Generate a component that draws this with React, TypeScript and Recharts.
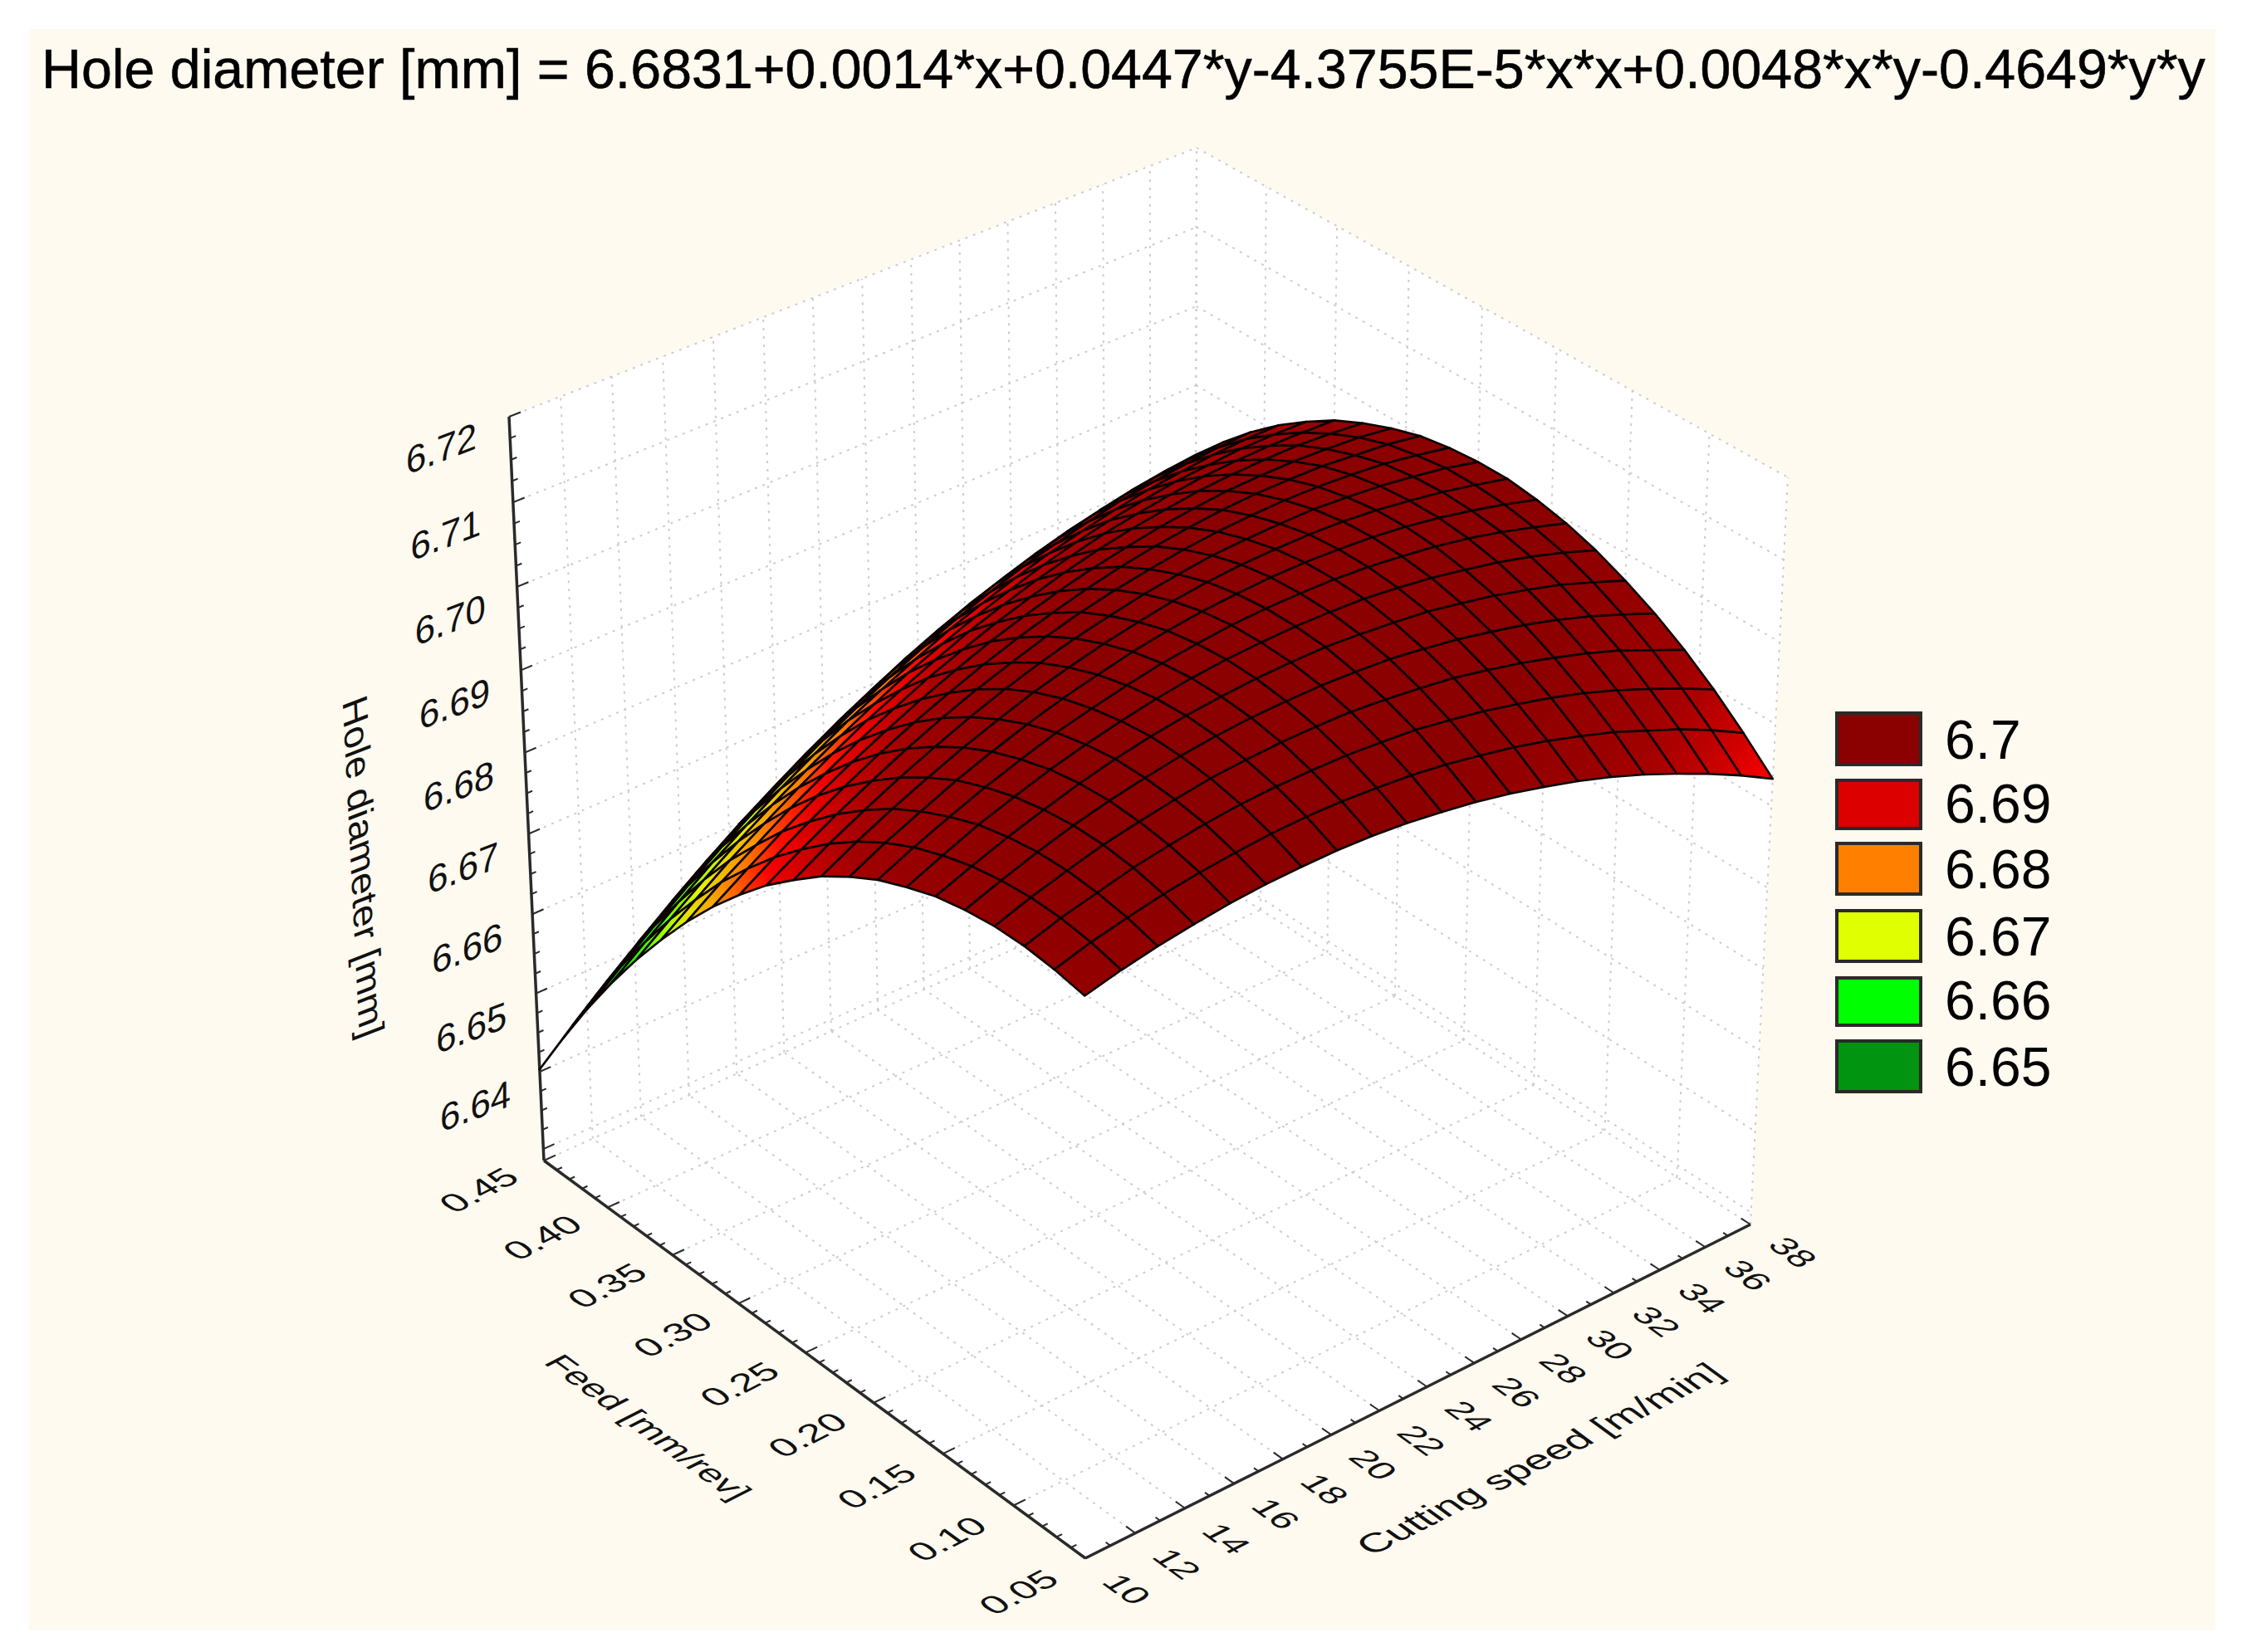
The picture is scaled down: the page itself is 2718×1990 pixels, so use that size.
import React from "react";
import { ScatterChart, Scatter, XAxis, YAxis } from "recharts";

const W = 2718;
const H = 1990;

const titleText = "Hole diameter [mm] = 6.6831+0.0014*x+0.0447*y-4.3755E-5*x*x+0.0048*x*y-0.4649*y*y";
const speedAxisTitle = "Cutting speed [m/min]";
const feedAxisTitle = "Feed [mm/rev]";
const zAxisTitle = "Hole diameter [mm]";

const speedTicks = [10, 12, 14, 16, 18, 20, 22, 24, 26, 28, 30, 32, 34, 36, 38];
const feedTicks = ["0.05", "0.10", "0.15", "0.20", "0.25", "0.30", "0.35", "0.40", "0.45"];
const zTicks = ["6.64", "6.65", "6.66", "6.67", "6.68", "6.69", "6.70", "6.71", "6.72"];

const legendLabels = ["6.7", "6.69", "6.68", "6.67", "6.66", "6.65"];
const legendColors = ["#8B0000", "#DD0000", "#FF8000", "#E0FF00", "#00FF00", "#009410"];

// surface grid: columns are cutting speed, rows are feed
const meshSpeed = [10, 11.4, 12.8, 14.2, 15.6, 17, 18.4, 19.8, 21.2, 22.6, 24, 25.4, 26.8, 28.2, 29.6, 31, 32.4, 33.8, 35.2, 36.6, 38];
const meshFeed = [0.05, 0.07, 0.09, 0.11, 0.13, 0.15, 0.17, 0.19, 0.21, 0.23, 0.25, 0.27, 0.29, 0.31, 0.33, 0.35, 0.37, 0.39, 0.41, 0.43, 0.45];
const diameter = [
  [6.6962,6.6972,6.6980,6.6986,6.6991,6.6994,6.6995,6.6995,6.6993,6.6989,6.6983,6.6976,6.6967,6.6956,6.6944,6.6930,6.6914,6.6896,6.6877,6.6856,6.6833],
  [6.6969,6.6981,6.6990,6.6998,6.7004,6.7008,6.7011,6.7012,6.7011,6.7008,6.7004,6.6998,6.6990,6.6981,6.6970,6.6957,6.6943,6.6926,6.6909,6.6889,6.6867],
  [6.6973,6.6986,6.6996,6.7006,6.7013,6.7019,6.7023,6.7025,6.7025,6.7024,6.7021,6.7017,6.7010,6.7002,6.6992,6.6981,6.6968,6.6953,6.6936,6.6918,6.6898],
  [6.6973,6.6987,6.6999,6.7010,6.7018,6.7025,6.7031,6.7034,6.7036,6.7036,6.7035,6.7031,6.7026,6.7020,6.7011,6.7001,6.6989,6.6976,6.6961,6.6943,6.6925],
  [6.6969,6.6984,6.6998,6.7010,6.7020,6.7028,6.7035,6.7040,6.7043,6.7044,6.7044,6.7042,6.7039,6.7033,6.7026,6.7017,6.7007,6.6995,6.6981,6.6965,6.6948],
  [6.6962,6.6978,6.6993,6.7006,6.7018,6.7028,6.7036,6.7042,6.7046,6.7049,6.7050,6.7050,6.7047,6.7043,6.7038,6.7030,6.7021,6.7010,6.6998,6.6983,6.6967],
  [6.6950,6.6968,6.6985,6.6999,6.7012,6.7023,6.7032,6.7040,6.7046,6.7050,6.7052,6.7053,6.7052,6.7050,6.7045,6.7039,6.7031,6.7022,6.7011,6.6998,6.6983],
  [6.6936,6.6955,6.6972,6.6988,6.7002,6.7015,6.7025,6.7034,6.7042,6.7047,6.7051,6.7053,6.7053,6.7052,6.7049,6.7044,6.7038,6.7030,6.7020,6.7008,6.6995],
  [6.6917,6.6938,6.6956,6.6974,6.6989,6.7003,6.7015,6.7025,6.7034,6.7041,6.7046,6.7049,6.7051,6.7051,6.7049,6.7046,6.7041,6.7034,6.7025,6.7015,6.7003],
  [6.6895,6.6917,6.6937,6.6955,6.6972,6.6987,6.7001,6.7012,6.7022,6.7030,6.7037,6.7042,6.7045,6.7046,6.7046,6.7044,6.7040,6.7034,6.7027,6.7018,6.7008],
  [6.6868,6.6892,6.6913,6.6933,6.6951,6.6968,6.6983,6.6996,6.7007,6.7016,6.7024,6.7030,6.7035,6.7037,6.7038,6.7038,6.7035,6.7031,6.7025,6.7018,6.7008],
  [6.6839,6.6863,6.6886,6.6907,6.6927,6.6945,6.6961,6.6975,6.6988,6.6999,6.7008,6.7015,6.7021,6.7025,6.7027,6.7028,6.7027,6.7024,6.7020,6.7013,6.7005],
  [6.6805,6.6831,6.6855,6.6878,6.6899,6.6918,6.6935,6.6951,6.6965,6.6977,6.6988,6.6997,6.7004,6.7009,6.7013,6.7015,6.7015,6.7014,6.7010,6.7006,6.6999],
  [6.6768,6.6795,6.6821,6.6845,6.6867,6.6887,6.6906,6.6923,6.6939,6.6952,6.6964,6.6974,6.6982,6.6989,6.6994,6.6998,6.6999,6.6999,6.6997,6.6994,6.6988],
  [6.6727,6.6756,6.6782,6.6808,6.6831,6.6853,6.6873,6.6892,6.6908,6.6923,6.6936,6.6948,6.6958,6.6966,6.6972,6.6977,6.6980,6.6981,6.6981,6.6978,6.6974],
  [6.6682,6.6712,6.6741,6.6767,6.6792,6.6815,6.6837,6.6856,6.6874,6.6891,6.6905,6.6918,6.6929,6.6939,6.6946,6.6952,6.6957,6.6959,6.6960,6.6959,6.6957],
  [6.6634,6.6665,6.6695,6.6723,6.6749,6.6773,6.6796,6.6817,6.6837,6.6854,6.6870,6.6884,6.6897,6.6908,6.6917,6.6924,6.6930,6.6933,6.6936,6.6936,6.6935],
  [6.6582,6.6614,6.6645,6.6675,6.6702,6.6728,6.6752,6.6775,6.6795,6.6814,6.6832,6.6847,6.6861,6.6873,6.6883,6.6892,6.6899,6.6904,6.6908,6.6910,6.6910],
  [6.6526,6.6560,6.6592,6.6623,6.6652,6.6679,6.6704,6.6728,6.6750,6.6770,6.6789,6.6806,6.6821,6.6835,6.6846,6.6856,6.6865,6.6871,6.6876,6.6879,6.6881],
  [6.6466,6.6502,6.6535,6.6567,6.6598,6.6626,6.6653,6.6678,6.6701,6.6723,6.6743,6.6761,6.6778,6.6793,6.6806,6.6817,6.6827,6.6835,6.6841,6.6845,6.6848],
  [6.6403,6.6440,6.6475,6.6508,6.6540,6.6570,6.6598,6.6624,6.6649,6.6672,6.6693,6.6713,6.6731,6.6747,6.6761,6.6774,6.6785,6.6794,6.6802,6.6808,6.6812],
];

// colour ramp of the surface
const rampZ = [6.65, 6.66, 6.67, 6.678, 6.683, 6.6875, 6.692, 6.7];
const rampC = [[0,148,16],[0,255,0],[224,255,0],[255,128,0],[255,0,0],[200,0,0],[160,0,0],[139,0,0]];

const colorAt = (z: number) => {
  if (z <= rampZ[0]) return `rgb(${rampC[0].join(",")})`;
  for (let i = 1; i < rampZ.length; i++) {
    if (z <= rampZ[i]) {
      const t = (z - rampZ[i - 1]) / (rampZ[i] - rampZ[i - 1]);
      const c = rampC[i].map((v, k) => Math.round(rampC[i - 1][k] + (v - rampC[i - 1][k]) * t));
      return `rgb(${c.join(",")})`;
    }
  }
  return `rgb(${rampC[rampC.length - 1].join(",")})`;
};

// box projection (u: speed, v: feed, w: height)
const floorQuad = [[1307, 1877], [2108, 1475], [1439, 1045], [655, 1398]];
const topQuad = [[1306, 947], [2153, 575], [1441, 178], [613, 502]];
const zMin = 6.6285;
const zMax = 6.72;
const speedMin = 10;
const speedMax = 38;
const feedMin = 0.05;
const feedMax = 0.45;

const makeQuad = (q: number[][]) => {
  const [[x0, y0], [x1, y1], [x2, y2], [x3, y3]] = q;
  const dx1 = x1 - x2, dx2 = x3 - x2, sx = x0 - x1 + x2 - x3;
  const dy1 = y1 - y2, dy2 = y3 - y2, sy = y0 - y1 + y2 - y3;
  const den = dx1 * dy2 - dx2 * dy1;
  const g = (sx * dy2 - dx2 * sy) / den;
  const h = (dx1 * sy - sx * dy1) / den;
  const a = x1 - x0 + g * x1, b = x3 - x0 + h * x3;
  const d = y1 - y0 + g * y1, e = y3 - y0 + h * y3;
  return (u: number, v: number) => {
    const n = g * u + h * v + 1;
    return [(a * u + b * v + x0) / n, (d * u + e * v + y0) / n];
  };
};
const floorMap = makeQuad(floorQuad);
const topMap = makeQuad(topQuad);
const proj = (u: number, v: number, w: number) => {
  const f = floorMap(u, v);
  const t = topMap(u, v);
  const perspective = 1.06 - 0.05 * u;
  const k = w / (perspective - (perspective - 1) * w);
  return [f[0] + (t[0] - f[0]) * k, f[1] + (t[1] - f[1]) * k];
};
const U = (s: number) => (s - speedMin) / (speedMax - speedMin);
const V = (f: number) => (f - feedMin) / (feedMax - feedMin);
const Wz = (z: number) => (z - zMin) / (zMax - zMin);

const centroid = (pts: number[][]) => ({
  x: pts.reduce((s, p) => s + p[0], 0) / pts.length,
  y: pts.reduce((s, p) => s + p[1], 0) / pts.length,
});

// walls
const wallData = [
  [proj(0, 1, 0), proj(1, 1, 0), proj(1, 1, 1), proj(0, 1, 1)],
  [proj(1, 0, 0), proj(1, 1, 0), proj(1, 1, 1), proj(1, 0, 1)],
  [proj(0, 0, 0), proj(1, 0, 0), proj(1, 1, 0), proj(0, 1, 0)],
].map((pts) => ({ ...centroid(pts), pts }));

const seg = (a: number[], b: number[]) => ({ ...centroid([a, b]), pts: [a, b] });

const speedNums = speedTicks;
const feedNums = feedTicks.map(Number);
const zNums = [6.63, ...zTicks.map(Number)];

const gridData: any[] = [];
speedNums.forEach((s) => {
  const u = U(s);
  gridData.push(seg(proj(u, 0, 0), proj(u, 1, 0)));
  gridData.push(seg(proj(u, 1, 0), proj(u, 1, 1)));
});
feedNums.forEach((f) => {
  const v = V(f);
  gridData.push(seg(proj(0, v, 0), proj(1, v, 0)));
  gridData.push(seg(proj(1, v, 0), proj(1, v, 1)));
});
zNums.forEach((z) => {
  const w = Wz(z);
  gridData.push(seg(proj(0, 1, w), proj(1, 1, w)));
  gridData.push(seg(proj(1, 1, w), proj(1, 0, w)));
});

// axes and ticks
const axisData = [
  seg(proj(0, 1, 0), proj(0, 1, 1)),
  seg(proj(0, 1, 0), proj(0, 0, 0)),
  seg(proj(0, 0, 0), proj(1, 0, 0)),
];
const tickData: any[] = [];
for (let i = 0; i <= 28; i++) {
  const u = i / 28;
  const len = i % 2 === 0 ? 0.016 : 0.008;
  tickData.push(seg(proj(u, 0, 0), proj(u, len, 0)));
}
for (let i = 0; i <= 40; i++) {
  const v = i / 40;
  const len = i % 5 === 0 ? 0.017 : 0.008;
  tickData.push(seg(proj(0, v, 0), proj(len, v, 0)));
}
for (let i = 0; i <= 36; i++) {
  const w = Wz(zMax - i * 0.0025);
  const len = i % 4 === 0 ? 0.016 : 0.008;
  tickData.push(seg(proj(0, 1, w), proj(len, 1, w)));
}

// surface cells, far ones first
const cellData: any[] = [];
for (let j = meshFeed.length - 2; j >= 0; j--) {
  for (let i = meshSpeed.length - 2; i >= 0; i--) {
    const corners = [[i, j], [i + 1, j], [i + 1, j + 1], [i, j + 1]];
    const pts = corners.map(([a, b]) => proj(U(meshSpeed[a]), V(meshFeed[b]), Wz(diameter[b][a])));
    const zs = corners.map(([a, b]) => diameter[b][a]);
    const lo = zs.indexOf(Math.min(...zs));
    const hi = zs.indexOf(Math.max(...zs));
    cellData.push({ ...centroid(pts), pts, lowPt: pts[lo], highPt: pts[hi], lowZ: zs[lo], highZ: zs[hi], id: `c${i}_${j}` });
  }
}

// text
const dirSpeed = [0.89, -0.455];
const dirFeed = [0.81, 0.59];
const labelData: any[] = [];
const addLabel = (p: number[], text: string, size: number, bx: number[], by: number[], extra: any = {}) =>
  labelData.push({ x: p[0], y: p[1], text, size, m: [bx[0], bx[1], by[0], by[1]], ...extra });

speedTicks.forEach((s) => {
  const p = proj(U(s), -0.072, 0);
  addLabel(p, String(s), 44, [dirFeed[0], dirFeed[1]], [-dirSpeed[0] * 0.9, -dirSpeed[1] * 0.9]);
});
feedTicks.forEach((f) => {
  const p = proj(-0.095, V(Number(f)), 0);
  addLabel(p, f, 44, [dirSpeed[0] * 1.06, dirSpeed[1] * 1.06], [dirFeed[0] * 0.9, dirFeed[1] * 0.9]);
});
zTicks.forEach((z) => {
  const p = proj(-0.095, 1, Wz(Number(z)));
  addLabel([p[0] + 2, p[1] + 5], z, 46, [0.95, -0.36], [0.0, 1.0]);
});
addLabel([438, 1044], zAxisTitle, 45, [0.05, 1], [-0.93, 0.36], { len: 408 });
addLabel([781, 1719], feedAxisTitle, 44, [dirFeed[0], dirFeed[1]], [-dirSpeed[0] * 0.9, -dirSpeed[1] * 0.9], { len: 284 });
addLabel([1853, 1757], speedAxisTitle, 46, [dirSpeed[0], dirSpeed[1]], [dirFeed[0] * 0.9, dirFeed[1] * 0.9], { len: 479 });

const titleData = [{ x: 50, y: 106, text: titleText }];

const legendTop = [857, 938, 1014, 1095, 1176, 1252];
const legendHeight = [66, 62, 65, 65, 61, 65];
const legendData = legendLabels.map((text, i) => ({
  x: 2210,
  y: legendTop[i],
  h: legendHeight[i],
  text,
  fill: legendColors[i],
}));

const FONT = "'Liberation Sans', Arial, sans-serif";

const offsetPts = (props: any) => {
  const d = props.payload;
  return d.pts.map((p: number[]) => [props.cx + p[0] - d.x, props.cy + p[1] - d.y]);
};
const toStr = (pts: number[][]) => pts.map((p) => `${p[0].toFixed(2)},${p[1].toFixed(2)}`).join(" ");

const WallShape = (props: any) => <polygon points={toStr(offsetPts(props))} fill="#ffffff" stroke="#ffffff" />;

const GridShape = (props: any) => {
  const [a, b] = offsetPts(props);
  return <line x1={a[0]} y1={a[1]} x2={b[0]} y2={b[1]} stroke="#cdcdcd" strokeWidth={2} strokeDasharray="3 7" />;
};
const AxisShape = (props: any) => {
  const [a, b] = offsetPts(props);
  return <line x1={a[0]} y1={a[1]} x2={b[0]} y2={b[1]} stroke="#2a2a2a" strokeWidth={3.5} />;
};
const TickShape = (props: any) => {
  const [a, b] = offsetPts(props);
  return <line x1={a[0]} y1={a[1]} x2={b[0]} y2={b[1]} stroke="#2a2a2a" strokeWidth={2} />;
};
const CellShape = (props: any) => {
  const d = props.payload;
  const dx = props.cx - d.x;
  const dy = props.cy - d.y;
  const mid = (d.lowZ + d.highZ) / 2;
  return (
    <g>
      <defs>
        <linearGradient
          id={d.id}
          gradientUnits="userSpaceOnUse"
          x1={d.lowPt[0] + dx}
          y1={d.lowPt[1] + dy}
          x2={d.highPt[0] + dx + 0.01}
          y2={d.highPt[1] + dy + 0.01}
        >
          <stop offset="0" stopColor={colorAt(d.lowZ)} />
          <stop offset="0.5" stopColor={colorAt(mid)} />
          <stop offset="1" stopColor={colorAt(d.highZ)} />
        </linearGradient>
      </defs>
      <polygon points={toStr(offsetPts(props))} fill={`url(#${d.id})`} stroke="#0c0000" strokeWidth={2.6} strokeLinejoin="round" />
    </g>
  );
};
const LabelShape = (props: any) => {
  const d = props.payload;
  const extra = d.len ? { textLength: d.len, lengthAdjust: "spacingAndGlyphs" } : {};
  return (
    <text
      transform={`matrix(${d.m[0]} ${d.m[1]} ${d.m[2]} ${d.m[3]} ${props.cx} ${props.cy})`}
      x={0}
      y={0}
      dy="0.36em"
      textAnchor="middle"
      fontFamily={FONT}
      fontSize={d.size}
      fill="#111"
      {...(extra as any)}
    >
      {d.text}
    </text>
  );
};
const TitleShape = (props: any) => (
  <text x={props.cx} y={props.cy} fontFamily={FONT} fontSize={66.3} fill="#000" stroke="#000" strokeWidth={0.6}>
    {props.payload.text}
  </text>
);
const LegendShape = (props: any) => {
  const d = props.payload;
  return (
    <g>
      <rect x={props.cx + 2} y={props.cy + 2} width={101} height={d.h - 4} fill={d.fill} stroke="#2a2a2a" strokeWidth={4} />
      <text x={props.cx + 132} y={props.cy + d.h - 9} fontFamily={FONT} fontSize={66} fill="#000">
        {d.text}
      </text>
    </g>
  );
};

export default function App() {
  return (
    <div style={{ position: "absolute", left: 0, top: 0, width: W, height: H, background: "#ffffff" }}>
      <div style={{ position: "absolute", left: 35, top: 35, width: 2633, height: 1929, background: "#FFFAF0" }} />
      <div style={{ position: "absolute", left: 0, top: 0 }}>
        <ScatterChart width={W} height={H} margin={{ top: 0, right: 0, bottom: 0, left: 0 }}>
          <XAxis type="number" dataKey="x" domain={[0, W]} hide allowDataOverflow />
          <YAxis type="number" dataKey="y" domain={[0, H]} reversed hide allowDataOverflow />
          <Scatter name="walls" data={wallData} shape={WallShape} isAnimationActive={false} />
          <Scatter name="grid" data={gridData} shape={GridShape} isAnimationActive={false} />
          <Scatter name="axes" data={axisData} shape={AxisShape} isAnimationActive={false} />
          <Scatter name="ticks" data={tickData} shape={TickShape} isAnimationActive={false} />
          <Scatter name="surface" data={cellData} shape={CellShape} isAnimationActive={false} />
          <Scatter name="labels" data={labelData} shape={LabelShape} isAnimationActive={false} />
          <Scatter name="title" data={titleData} shape={TitleShape} isAnimationActive={false} />
          <Scatter name="legend" data={legendData} shape={LegendShape} isAnimationActive={false} />
        </ScatterChart>
      </div>
    </div>
  );
}
